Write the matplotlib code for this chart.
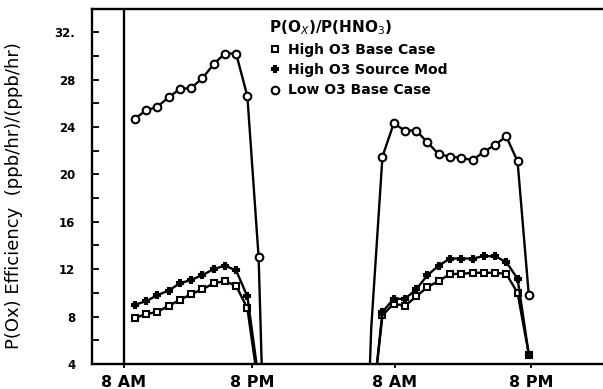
import numpy as np
import matplotlib.pyplot as plt
from matplotlib.lines import Line2D
from matplotlib.ticker import MultipleLocator

plt.rcParams['font.family'] = ['DejaVu Sans']

# hours after 8 AM of the first day
hours_day1 = [1, 2, 3, 4, 5, 6, 7, 8, 9, 10, 11, 12, 13]
hours_day2 = [21, 22, 23, 24, 25, 26, 27, 28, 29, 30, 31, 32, 33, 34, 35, 36]

# values below 4 run off the bottom of the plot (night time)
high_base_d1 = [7.9, 8.2, 8.4, 8.9, 9.4, 9.9, 10.3, 10.8, 11.0, 10.6, 8.7, 2.0, np.nan]
high_base_d2 = [np.nan, -0.5, 8.1, 9.1, 8.9, 9.7, 10.5, 11.0, 11.6, 11.6, 11.7, 11.7, 11.7, 11.6, 10.0, 4.8]

high_mod_d1 = [9.0, 9.3, 9.8, 10.2, 10.8, 11.1, 11.5, 12.0, 12.3, 11.9, 9.7, 2.7, np.nan]
high_mod_d2 = [np.nan, -0.5, 8.4, 9.5, 9.5, 10.3, 11.5, 12.3, 12.9, 12.9, 12.9, 13.1, 13.1, 12.6, 11.2, 4.8]

low_base_d1 = [24.7, 25.4, 25.7, 26.5, 27.2, 27.3, 28.1, 29.3, 30.2, 30.2, 26.6, 13.0, -20]
low_base_d2 = [-20, 7.0, 21.5, 24.3, 23.7, 23.7, 22.7, 21.7, 21.5, 21.4, 21.2, 21.9, 22.5, 23.2, 21.1, 9.8]

tick_pos = [0, 11.4, 24.1, 36.2]
tick_labels = ['8 AM', '8 PM', '8 AM', '8 PM']
ytick_vals = [4, 8, 12, 16, 20, 24, 28, 32]
ytick_labels = ['4', '8', '12', '16', '20', '24', '28', '32.']

fig = plt.figure(figsize=(6.03, 3.89), dpi=100)
ax = fig.add_axes([92 / 603, 25 / 389, 510 / 603, 355.5 / 389])

styles = [
    (high_base_d1, high_base_d2, 's', 4.5, 'white', 'High O3 Base Case'),
    (high_mod_d1, high_mod_d2, 'P', 4.5, 'black', 'High O3 Source Mod'),
    (low_base_d1, low_base_d2, 'o', 5.5, 'white', 'Low O3 Base Case'),
]
for d1, d2, mk, ms, fc, lab in styles:
    for hrs, vals in ((hours_day1, d1), (hours_day2, d2)):
        # the early-morning low O3 point carries no symbol in the original
        every = slice(2, None) if vals is low_base_d2 else None
        ax.plot(hrs, vals, color='black', lw=1.7, marker=mk, ms=ms,
                mfc=fc, mec='black', mew=1.5, markevery=every)

ax.axvline(0, color='black', lw=1.7)

ax.set_xlim(-2.8, 42.5)
ax.set_ylim(4, 34)
ax.set_xticks(tick_pos)
ax.set_xticklabels(tick_labels, fontsize=11.5, fontweight='bold')
ax.set_yticks(ytick_vals)
ax.set_yticklabels(ytick_labels, fontsize=8.5, fontweight='bold')
ax.yaxis.set_minor_locator(MultipleLocator(2))
ax.tick_params(axis='y', which='both', direction='in', length=5, width=1.3, pad=12)
ax.tick_params(axis='x', direction='out', length=3, width=1.3, pad=5)
ax.spines['right'].set_visible(False)
for s in ['left', 'top', 'bottom']:
    ax.spines[s].set_linewidth(1.7)

ax.set_ylabel('P(Ox) Efficiency  (ppb/hr)/(ppb/hr)', fontsize=13)
ax.yaxis.set_label_coords(-0.135, 0.475)

handles = [Line2D([], [], ls='none', marker=mk, ms=ms, mfc=fc, mec='black', mew=1.5)
           for _, _, mk, ms, fc, _ in styles]
labels = [s[5] for s in styles]
leg = ax.legend(handles, labels, title='P(O$_X$)/P(HNO$_3$)', loc='upper left',
                bbox_to_anchor=(262 / 603, 378 / 389), bbox_transform=fig.transFigure,
                frameon=False, handlelength=0.8, handletextpad=0.6, labelspacing=0.45,
                borderpad=0, alignment='left',
                prop={'size': 10, 'weight': 'bold'},
                title_fontproperties={'size': 11, 'weight': 'bold'})

fig.savefig('out.png', dpi=100)
